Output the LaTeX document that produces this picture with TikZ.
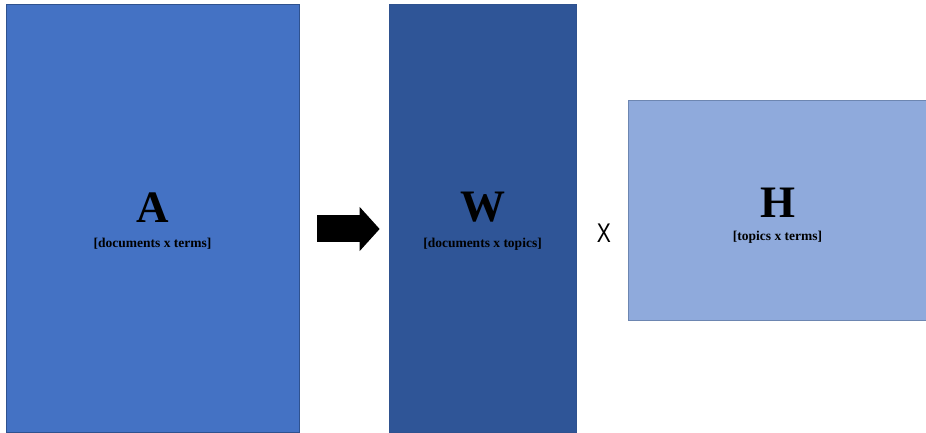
\documentclass[tikz,border=0pt]{standalone}
\usepackage{fontspec}
\setmainfont{Liberation Serif}
\newfontfamily\xfont{Liberation Sans}
\definecolor{ablue}{RGB}{68,114,196}
\definecolor{wblue}{RGB}{47,85,151}
\definecolor{hblue}{RGB}{143,170,220}
\definecolor{edgeblue}{RGB}{47,82,143}
\usetikzlibrary{calc}
\usetikzlibrary{positioning}
\usetikzlibrary{arrows.meta}
\tikzset{
  matbox/.style={draw=edgeblue, line width=0.7pt, inner sep=0pt},
  bigletter/.style={font=\fontsize{45}{45}\selectfont\bfseries, inner sep=0pt, anchor=base},
  dimtext/.style={font=\fontsize{13.5}{13.5}\selectfont\bfseries, inner sep=0pt, anchor=base},
  blockarrow/.style={line width=27pt, -{Triangle[length=20pt,width=43pt]}}
}

\begin{document}
\begin{tikzpicture}[x=1pt, y=1pt]
  \useasboundingbox (0,0) rectangle (926,433);

  \node[matbox, fill=ablue, minimum width=293pt, minimum height=428pt] (A) at (152.5,215) {};
  \node[matbox, fill=wblue, minimum width=187pt, minimum height=428pt] (W) at (482.5,215) {};
  \node[matbox, fill=hblue, draw=edgeblue!70, minimum width=299pt, minimum height=220pt] (H) at (777.5,223) {};

  \node[bigletter] (Aletter) at ([yshift=-5pt]A.center) {A};
  \node[dimtext] (Adim) at ([yshift=-25pt]Aletter.base) {[documents x terms]};

  \node[bigletter] (Wletter) at ([yshift=-4pt]W.center) {W};
  \node[dimtext] (Wdim) at ([yshift=-26pt]Wletter.base) {[documents x topics]};

  \node[bigletter] (Hletter) at ([yshift=-8pt]H.center) {H};
  \node[dimtext] (Hdim) at ([yshift=-23pt]Hletter.base) {[topics x terms]};

  % block arrow A -> W
  \draw[blockarrow, shorten <=18pt, shorten >=9pt] ([yshift=-11pt]A.east) -- ([yshift=-11pt]W.west);

  \node[inner sep=0pt, font=\xfont\fontsize{27}{27}\selectfont] (times) at (604,200) {\scalebox{0.78}[1]{X}};
\end{tikzpicture}
\end{document}
